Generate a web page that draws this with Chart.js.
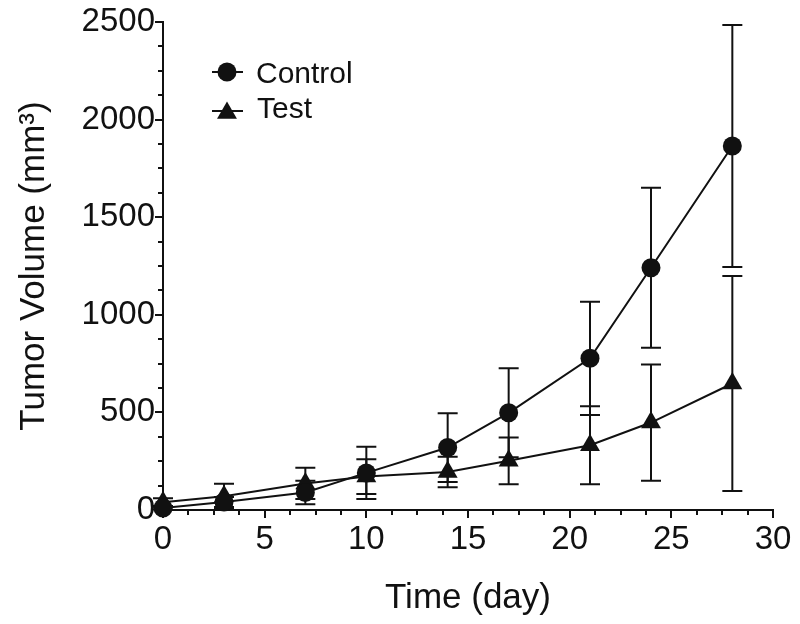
<!DOCTYPE html>
<html><head><meta charset="utf-8">
<script src="https://cdn.jsdelivr.net/npm/chart.js@4.4.0/dist/chart.umd.min.js"></script>
<style>html,body{margin:0;padding:0;background:#fff;}#wrap{width:800px;height:624px;}</style>
</head><body><div id="wrap"><canvas id="c" width="800" height="624"></canvas></div>
<script>
const days = [0, 3, 7, 10, 14, 17, 21, 24, 28];
const controlMean = [10, 41, 90, 190, 320, 498, 777, 1241, 1865];
const controlErr = [8, 25, 60, 134, 176, 228, 290, 410, 620];
const testMean = [40, 70, 136, 171, 195, 252, 332, 448, 648];
const testErr = [20, 65, 80, 89, 78, 120, 200, 298, 551];
const xTicks = [0, 5, 10, 15, 20, 25, 30];
const yTicks = [0, 500, 1000, 1500, 2000, 2500];
const seriesNames = ['Control', 'Test'];
const xTitle = 'Time (day)';
const yTitle = 'Tumor Volume (mm³)';

const INK = '#111';
const FONT = "'Liberation Sans', Arial, sans-serif";

const errSets = [controlErr, testErr];
const meanSets = [controlMean, testMean];

const errorBars = {
  id: 'errorBars',
  beforeDatasetsDraw(chart) {
    const {ctx, scales: {x, y}} = chart;
    ctx.save();
    ctx.strokeStyle = INK;
    ctx.lineWidth = 2;
    meanSets.forEach((m, s) => {
      days.forEach((d, i) => {
        const px = x.getPixelForValue(d);
        const t = y.getPixelForValue(m[i] + errSets[s][i]);
        const b = y.getPixelForValue(m[i] - errSets[s][i]);
        ctx.beginPath();
        ctx.moveTo(px, t); ctx.lineTo(px, b);
        ctx.moveTo(px - 10, t); ctx.lineTo(px + 10, t);
        ctx.moveTo(px - 10, b); ctx.lineTo(px + 10, b);
        ctx.stroke();
      });
    });
    ctx.restore();
  }
};

const minorTicks = {
  id: 'minorTicks',
  afterDraw(chart) {
    const {ctx, scales: {x, y}, chartArea} = chart;
    ctx.save();
    ctx.strokeStyle = INK;
    ctx.lineWidth = 2;
    ctx.beginPath();
    for (let v = 1.25; v < 30; v += 1.25) {
      if (Math.abs(v % 5) < 1e-6) continue;
      const px = Math.round(x.getPixelForValue(v));
      ctx.moveTo(px, chartArea.bottom); ctx.lineTo(px, chartArea.bottom + 5);
    }
    for (let v = 125; v < 2500; v += 125) {
      if (v % 500 === 0) continue;
      const py = Math.round(y.getPixelForValue(v));
      ctx.moveTo(chartArea.left, py); ctx.lineTo(chartArea.left - 5, py);
    }
    ctx.stroke();
    ctx.restore();
  }
};

const legendPlugin = {
  id: 'customLegend',
  afterDraw(chart) {
    const {ctx} = chart;
    ctx.save();
    ctx.strokeStyle = INK; ctx.fillStyle = INK; ctx.lineWidth = 2;
    ctx.beginPath(); ctx.moveTo(212, 72); ctx.lineTo(243, 72); ctx.stroke();
    ctx.beginPath(); ctx.arc(227, 72, 9.5, 0, Math.PI * 2); ctx.fill();
    ctx.beginPath(); ctx.moveTo(212, 111); ctx.lineTo(243, 111); ctx.stroke();
    const r = 11.5, cx = 227, cy = 113;
    ctx.beginPath();
    ctx.moveTo(cx, cy - r);
    ctx.lineTo(cx + r * Math.sin(2 * Math.PI / 3), cy - r * Math.cos(2 * Math.PI / 3));
    ctx.lineTo(cx + r * Math.sin(4 * Math.PI / 3), cy - r * Math.cos(4 * Math.PI / 3));
    ctx.closePath(); ctx.fill();
    ctx.font = '30px ' + FONT;
    ctx.textBaseline = 'alphabetic';
    ctx.fillText(seriesNames[0], 256, 83);
    ctx.fillText(seriesNames[1], 257, 118);
    ctx.restore();
  }
};

const toPts = (m) => days.map((d, i) => ({x: d, y: m[i]}));

new Chart(document.getElementById('c'), {
  type: 'line',
  data: {
    datasets: [
      {label: seriesNames[0], data: toPts(controlMean), borderColor: INK, backgroundColor: INK,
       borderWidth: 2, pointStyle: 'circle', pointRadius: 9.5, pointBorderWidth: 0, clip: false, tension: 0},
      {label: seriesNames[1], data: toPts(testMean), borderColor: INK, backgroundColor: INK,
       borderWidth: 2, pointStyle: 'triangle', pointRadius: 11.5, pointBorderWidth: 0, clip: false, tension: 0}
    ]
  },
  options: {
    responsive: false,
    devicePixelRatio: 1,
    animation: false,
    layout: {padding: {left: 0, right: 27, top: 22, bottom: 0}},
    plugins: {legend: {display: false}, tooltip: {enabled: false}},
    scales: {
      x: {
        type: 'linear', min: 0, max: 30,
        afterBuildTicks: (s) => { s.ticks = xTicks.map(v => ({value: v})); },
        afterFit: (s) => { s.height = 114; },
        ticks: {color: INK, font: {family: FONT, size: 33}, padding: 2, maxRotation: 0, autoSkip: false,
                callback: (v) => String(v)},
        grid: {display: true, drawOnChartArea: false, drawTicks: true, tickLength: 8, color: INK, lineWidth: 2},
        border: {display: true, color: INK, width: 2},
        title: {display: true, text: xTitle, color: INK, font: {family: FONT, size: 35}, padding: {top: 0, bottom: 5}}
      },
      y: {
        type: 'linear', min: 0, max: 2500,
        afterBuildTicks: (s) => { s.ticks = yTicks.map(v => ({value: v})); },
        afterFit: (s) => { s.width = 163; },
        ticks: {color: INK, font: {family: FONT, size: 33}, padding: 0, autoSkip: false,
                callback: (v) => String(v)},
        grid: {display: true, drawOnChartArea: false, drawTicks: true, tickLength: 8, color: INK, lineWidth: 2},
        border: {display: true, color: INK, width: 2},
        title: {display: true, text: yTitle, color: INK, font: {family: FONT, size: 35}, padding: {top: 13, bottom: 0}}
      }
    }
  },
  plugins: [errorBars, minorTicks, legendPlugin]
});
</script></body></html>
